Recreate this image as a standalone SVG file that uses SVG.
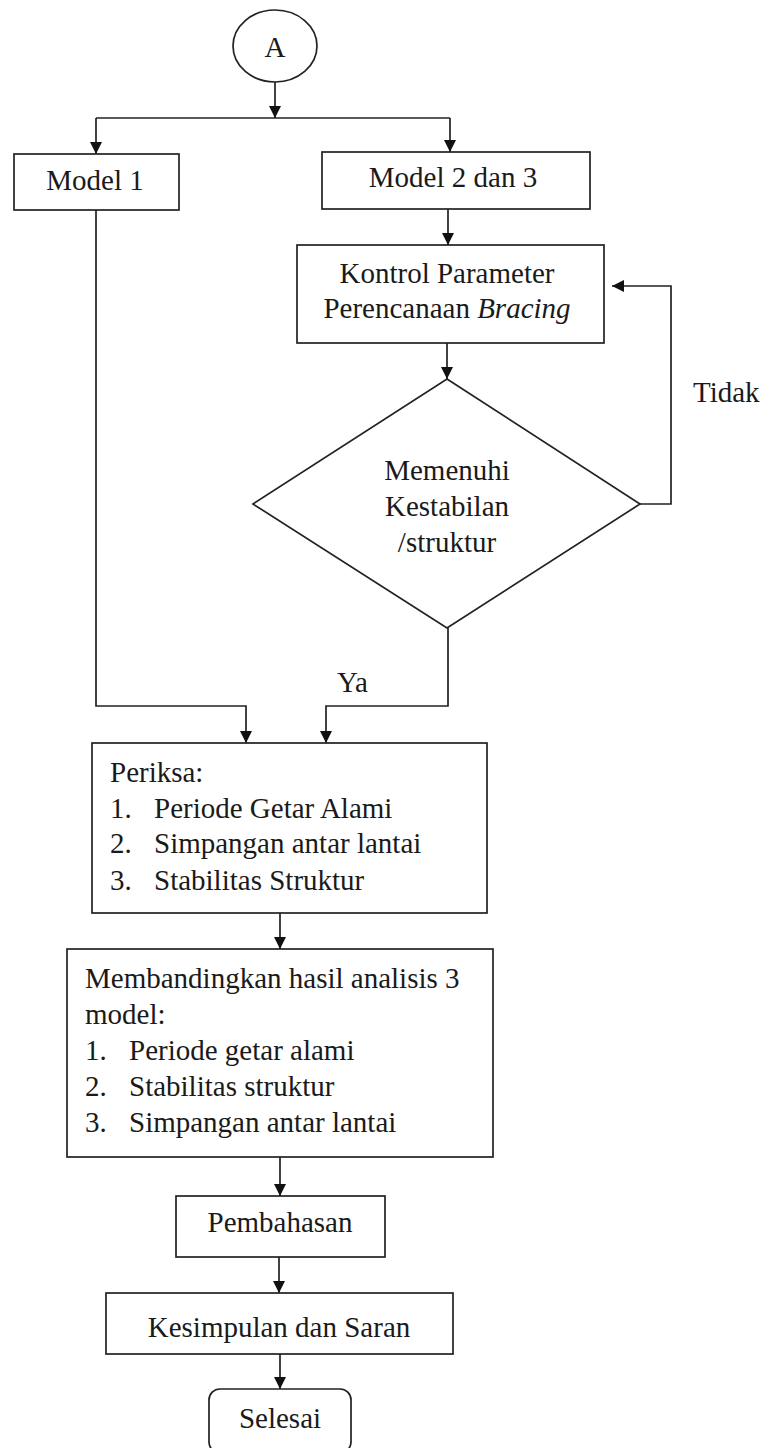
<svg xmlns="http://www.w3.org/2000/svg" width="766" height="1448" viewBox="0 0 766 1448">
<defs>
<style>
.n{fill:#fff;stroke:#222;stroke-width:1.7}
.t{font-family:"Liberation Serif","Times New Roman",serif;font-size:29px;fill:#1a1a1a}
.c{text-anchor:middle}
.e{fill:none;stroke:#222;stroke-width:1.7}
</style>
<marker id="ah" viewBox="0 0 10 10" refX="10" refY="5" markerWidth="12" markerHeight="12" markerUnits="userSpaceOnUse" orient="auto">
<path d="M0,0 L10,5 L0,10 Z" fill="#111"/>
</marker>
</defs>
<rect width="766" height="1448" fill="#fff"/>
<g id="connectors">
<path class="e" d="M275,82 V118" marker-end="url(#ah)"/>
<path class="e" d="M96,118 H450"/>
<path class="e" d="M96,118 V154" marker-end="url(#ah)"/>
<path class="e" d="M450,118 V152" marker-end="url(#ah)"/>
<path class="e" d="M448,209 V245" marker-end="url(#ah)"/>
<path class="e" d="M447,343 V379" marker-end="url(#ah)"/>
<path class="e" d="M640,504 H671 V286 H612" marker-end="url(#ah)"/>
<path class="e" d="M96,210 V706 H246 V743" marker-end="url(#ah)"/>
<path class="e" d="M448,628 V706 H326 V743" marker-end="url(#ah)"/>
<path class="e" d="M280,913 V949" marker-end="url(#ah)"/>
<path class="e" d="M280,1157 V1196" marker-end="url(#ah)"/>
<path class="e" d="M279,1257 V1293" marker-end="url(#ah)"/>
<path class="e" d="M280,1354 V1389" marker-end="url(#ah)"/>
<text class="t" x="693" y="402">Tidak</text>
<text class="t" x="337" y="692">Ya</text>
</g>
<g id="start">
<ellipse class="n" cx="275" cy="46" rx="42" ry="36"/>
<text class="t c" x="275" y="57">A</text>
</g>
<g id="model1">
<rect class="n" x="14" y="154" width="165" height="56"/>
<text class="t c" x="95" y="190">Model 1</text>
</g>
<g id="model23">
<rect class="n" x="322" y="152" width="268" height="57"/>
<text class="t c" x="453" y="187">Model 2 dan 3</text>
</g>
<g id="kontrol">
<rect class="n" x="297" y="245" width="307" height="98"/>
<text class="t c" x="447" y="283">Kontrol Parameter</text>
<text class="t c" x="447" y="318">Perencanaan <tspan font-style="italic">Bracing</tspan></text>
</g>
<g id="decision">
<polygon class="n" points="447,379 640,504 447,628 253,504"/>
<text class="t c" x="447" y="480">Memenuhi</text>
<text class="t c" x="447" y="516">Kestabilan</text>
<text class="t c" x="447" y="552">/struktur</text>
</g>
<g id="periksa">
<rect class="n" x="92" y="743" width="395" height="170"/>
<text class="t" x="110" y="782">Periksa:</text>
<text class="t" x="110" y="818">1.</text><text class="t" x="154" y="818">Periode Getar Alami</text>
<text class="t" x="110" y="853">2.</text><text class="t" x="154" y="853">Simpangan antar lantai</text>
<text class="t" x="110" y="890">3.</text><text class="t" x="154" y="890">Stabilitas Struktur</text>
</g>
<g id="membandingkan">
<rect class="n" x="67" y="949" width="426" height="208"/>
<text class="t" x="85" y="988">Membandingkan hasil analisis 3</text>
<text class="t" x="85" y="1024">model:</text>
<text class="t" x="85" y="1060">1.</text><text class="t" x="129" y="1060">Periode getar alami</text>
<text class="t" x="85" y="1096">2.</text><text class="t" x="129" y="1096">Stabilitas struktur</text>
<text class="t" x="85" y="1132">3.</text><text class="t" x="129" y="1132">Simpangan antar lantai</text>
</g>
<g id="pembahasan">
<rect class="n" x="176" y="1196" width="209" height="61"/>
<text class="t c" x="280" y="1232">Pembahasan</text>
</g>
<g id="kesimpulan">
<rect class="n" x="106" y="1293" width="347" height="61"/>
<text class="t c" x="279" y="1337">Kesimpulan dan Saran</text>
</g>
<g id="selesai">
<rect class="n" x="209" y="1389" width="142" height="64" rx="11"/>
<text class="t c" x="280" y="1428">Selesai</text>
</g>
</svg>
